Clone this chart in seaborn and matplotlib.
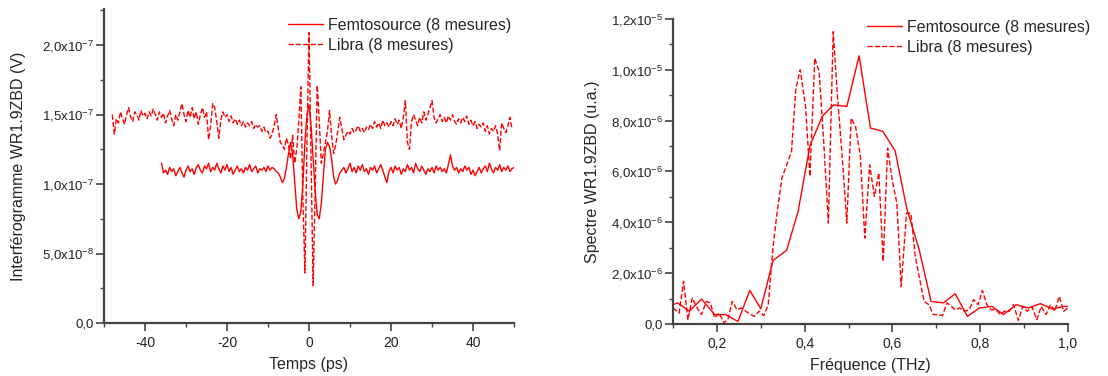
import numpy as np
import pandas as pd
import matplotlib
matplotlib.use("Agg")
import matplotlib.pyplot as plt
import seaborn as sns
from matplotlib.ticker import MultipleLocator, FuncFormatter

# Interferogram, Femtosource (x1e-7 V), 0.5 ps sampling from -36 ps to 50 ps
femto_left = [1.15, 1.08, 1.10, 1.07, 1.12, 1.09, 1.11, 1.06, 1.09, 1.12, 1.08, 1.05, 1.10, 1.13, 1.09,
              1.11, 1.07, 1.12, 1.14, 1.10, 1.08, 1.13, 1.11, 1.15, 1.09, 1.12, 1.10, 1.15, 1.11, 1.08,
              1.13, 1.10, 1.14, 1.09, 1.12, 1.07, 1.10, 1.13, 1.09, 1.11, 1.08, 1.12, 1.10, 1.14, 1.09,
              1.11, 1.13, 1.08, 1.11, 1.10, 1.12, 1.09, 1.13, 1.10, 1.12, 1.11, 1.09]
femto_mid = [1.08, 1.05, 1.01, 1.04, 1.12, 1.22, 1.30, 1.22, 1.02, 0.82, 0.75, 0.80, 1.00, 1.30, 1.50,
             1.57, 1.42, 1.18, 0.95, 0.78, 0.75, 0.86, 1.05, 1.25, 1.30, 1.27, 1.18, 1.05, 1.00, 1.03, 1.08]
femto_right = [1.10, 1.12, 1.08, 1.11, 1.15, 1.09, 1.12, 1.08, 1.13, 1.10, 1.14, 1.09, 1.11, 1.07, 1.12,
               1.10, 1.13, 1.08, 1.11, 1.14, 1.10, 1.05, 1.01, 1.09, 1.12, 1.08, 1.13, 1.10, 1.12, 1.07,
               1.11, 1.09, 1.14, 1.10, 1.12, 1.08, 1.15, 1.11, 1.09, 1.13, 1.10, 1.07, 1.11, 1.09, 1.12,
               1.08, 1.13, 1.10, 1.12, 1.09, 1.11, 1.08, 1.14, 1.21, 1.13, 1.10, 1.12, 1.08, 1.11, 1.09,
               1.13, 1.10, 1.12, 1.07, 1.10, 1.06, 1.09, 1.12, 1.08, 1.11, 1.13, 1.09, 1.15, 1.11, 1.08,
               1.12, 1.10, 1.14, 1.09, 1.12, 1.10, 1.13, 1.09, 1.11, 1.12]
femto_int = femto_left + femto_mid + femto_right

# Interferogram, Libra (x1e-7 V), 0.5 ps sampling from -48 ps to 49.5 ps
libra_int = [1.50, 1.36, 1.47, 1.44, 1.52, 1.47, 1.43, 1.50, 1.55, 1.48, 1.45, 1.52, 1.50, 1.46, 1.53,
             1.49, 1.51, 1.47, 1.52, 1.49, 1.54, 1.50, 1.46, 1.52, 1.48, 1.51, 1.44, 1.49, 1.53, 1.47,
             1.42, 1.50, 1.46, 1.52, 1.58, 1.50, 1.45, 1.53, 1.48, 1.55, 1.47, 1.52, 1.43, 1.50, 1.55,
             1.48, 1.52, 1.32, 1.42, 1.58, 1.55, 1.45, 1.33, 1.46, 1.52, 1.48, 1.50, 1.45, 1.49, 1.44,
             1.47, 1.43, 1.46, 1.42, 1.45, 1.41, 1.44, 1.42, 1.45, 1.40, 1.43, 1.41, 1.42, 1.38, 1.41,
             1.37, 1.38, 1.33, 1.36, 1.42, 1.50, 1.40, 1.30, 1.28, 1.25, 1.33, 1.28, 1.18, 1.35, 1.15,
             1.25, 1.45, 1.70, 0.90, 0.36, 1.30, 2.09, 1.20, 0.27, 0.95, 1.71, 1.45, 1.15, 1.22, 1.30,
             1.38, 1.53, 1.35, 1.22, 1.28, 1.38, 1.48, 1.40, 1.32, 1.35, 1.38, 1.36, 1.40, 1.37, 1.39,
             1.42, 1.38, 1.40, 1.37, 1.41, 1.39, 1.43, 1.40, 1.45, 1.41, 1.44, 1.40, 1.46, 1.42, 1.44,
             1.41, 1.45, 1.42, 1.47, 1.43, 1.46, 1.40, 1.48, 1.60, 1.30, 1.25, 1.45, 1.50, 1.46, 1.42,
             1.48, 1.44, 1.52, 1.46, 1.50, 1.55, 1.60, 1.48, 1.44, 1.47, 1.50, 1.45, 1.48, 1.44, 1.49,
             1.46, 1.50, 1.45, 1.43, 1.47, 1.44, 1.48, 1.45, 1.49, 1.43, 1.46, 1.42, 1.45, 1.40, 1.43,
             1.41, 1.44, 1.38, 1.42, 1.36, 1.40, 1.38, 1.42, 1.36, 1.24, 1.44, 1.40, 1.37, 1.42, 1.48,
             1.40]

# Spectrum, Femtosource (x1e-6 u.a.)
femto_freq = [0.100, 0.111, 0.137, 0.165, 0.195, 0.220, 0.248, 0.275, 0.300, 0.328, 0.359, 0.385,
              0.412, 0.440, 0.466, 0.496, 0.524, 0.550, 0.578, 0.606, 0.633, 0.661, 0.688, 0.716,
              0.743, 0.771, 0.798, 0.827, 0.853, 0.882, 0.909, 0.937, 0.965, 0.990, 1.000]
femto_spec = [0.76, 0.83, 0.50, 0.98, 0.37, 0.37, 0.10, 1.32, 0.60, 2.50, 2.90, 4.43,
              7.01, 8.17, 8.62, 8.56, 10.55, 7.71, 7.58, 6.82, 4.52, 2.92, 0.89, 0.83,
              1.19, 0.30, 0.63, 0.69, 0.37, 0.76, 0.63, 0.80, 0.59, 0.69, 0.69]

# Spectrum, Libra (x1e-6 u.a.)
libra_freq = [0.100, 0.114, 0.124, 0.134, 0.144, 0.155, 0.165, 0.176, 0.185, 0.195, 0.205, 0.216,
              0.225, 0.235, 0.246, 0.256, 0.266, 0.277, 0.286, 0.296, 0.307, 0.317, 0.328, 0.337,
              0.348, 0.359, 0.370, 0.380, 0.390, 0.402, 0.412, 0.423, 0.433, 0.444, 0.454, 0.465,
              0.475, 0.486, 0.496, 0.506, 0.516, 0.527, 0.537, 0.548, 0.559, 0.569, 0.579, 0.589,
              0.600, 0.610, 0.620, 0.632, 0.642, 0.652, 0.663, 0.672, 0.683, 0.693, 0.703, 0.714,
              0.724, 0.735, 0.743, 0.753, 0.764, 0.775, 0.785, 0.795, 0.805, 0.815, 0.825, 0.836,
              0.846, 0.855, 0.866, 0.876, 0.887, 0.897, 0.907, 0.918, 0.929, 0.939, 0.950, 0.960,
              0.970, 0.980, 0.990, 1.000]
libra_spec = [0.63, 0.43, 1.68, 0.17, 1.02, 0.63, 0.37, 0.89, 0.83, 0.24, 0.43, 0.04,
              0.17, 0.89, 0.56, 0.63, 0.50, 0.37, 0.30, 0.50, 0.33, 0.76, 3.05, 4.36,
              5.74, 6.26, 6.79, 9.28, 10.00, 8.56, 5.81, 10.46, 9.93, 6.99, 3.97, 11.50,
              8.89, 6.46, 3.97, 8.10, 7.77, 6.59, 3.38, 6.26, 5.02, 5.94, 2.46, 6.92,
              5.61, 4.76, 1.48, 4.36, 4.36, 2.66, 1.68, 0.89, 0.76, 0.37, 0.37, 0.33,
              0.83, 0.69, 0.56, 0.63, 0.50, 0.56, 0.96, 0.76, 1.32, 0.76, 0.56, 0.56,
              0.37, 0.50, 0.50, 0.76, 0.14, 0.69, 0.50, 0.67, 0.17, 0.69, 0.37, 0.76,
              0.50, 1.09, 0.50, 0.63]

labels = ["Femtosource (8 mesures)", "Libra (8 mesures)"]

sns.set_style("ticks")
plt.rcParams["font.family"] = ["Liberation Sans", "DejaVu Sans"]
plt.rcParams["mathtext.fontset"] = "custom"
plt.rcParams["mathtext.rm"] = "Liberation Sans"
plt.rcParams["mathtext.it"] = "Liberation Sans"
plt.rcParams["axes.unicode_minus"] = False


def sci_fmt(v, pos):
    if abs(v) < 1e-20:
        return "0,0"
    e = int(np.floor(np.log10(abs(v)) + 1e-9))
    m = v / 10 ** e
    return f"{m:.1f}".replace(".", ",") + "x10$^{%d}$" % e


fig = plt.figure(figsize=(11.08, 3.76), dpi=100)
ax1 = fig.add_axes([0.0939, 0.141, 0.370, 0.835])
ax2 = fig.add_axes([0.6074, 0.1383, 0.3565, 0.8112])

red = "#ff0000"

# Interferogram
df_f = pd.DataFrame({"t": np.linspace(-36, 50, len(femto_int)), "v": np.array(femto_int) * 1e-7})
df_l = pd.DataFrame({"t": np.linspace(-48, 49.5, len(libra_int)), "v": np.array(libra_int) * 1e-7})
sns.lineplot(data=df_f, x="t", y="v", ax=ax1, color=red, lw=1.0, label=labels[0])
sns.lineplot(data=df_l, x="t", y="v", ax=ax1, color=red, lw=1.0, linestyle="--", label=labels[1])
ax1.set_xlim(-50, 50)
ax1.set_ylim(0, 2.26e-7)
ax1.xaxis.set_major_locator(MultipleLocator(20))
ax1.xaxis.set_minor_locator(MultipleLocator(10))
ax1.yaxis.set_major_locator(MultipleLocator(5e-8))
ax1.yaxis.set_minor_locator(MultipleLocator(2.5e-8))
ax1.set_xlabel("Temps (ps)", fontsize=11.5, labelpad=5)
ax1.set_ylabel("Interférogramme WR1.9ZBD (V)", fontsize=11.5)

# Spectrum
df_fs = pd.DataFrame({"f": femto_freq, "s": np.array(femto_spec) * 1e-6})
df_ls = pd.DataFrame({"f": libra_freq, "s": np.array(libra_spec) * 1e-6})
sns.lineplot(data=df_fs, x="f", y="s", ax=ax2, color=red, lw=1.0, label=labels[0])
sns.lineplot(data=df_ls, x="f", y="s", ax=ax2, color=red, lw=1.0, linestyle="--", label=labels[1])
ax2.set_xlim(0.1, 1.0)
ax2.set_ylim(0, 1.2e-5)
ax2.xaxis.set_major_locator(MultipleLocator(0.2))
ax2.xaxis.set_minor_locator(MultipleLocator(0.1))
ax2.yaxis.set_major_locator(MultipleLocator(2e-6))
ax2.yaxis.set_minor_locator(MultipleLocator(1e-6))
ax2.xaxis.set_major_formatter(FuncFormatter(lambda v, p: f"{v:.1f}".replace(".", ",")))
ax2.set_xlabel("Fréquence (THz)", fontsize=11.5, labelpad=5)
ax2.set_ylabel("Spectre WR1.9ZBD (u.a.)", fontsize=11.5)

for ax, lx, ly in [(ax1, 288, 18), (ax2, 867, 20)]:
    ax.yaxis.set_major_formatter(FuncFormatter(sci_fmt))
    sns.despine(ax=ax)
    for s in ["left", "bottom"]:
        ax.spines[s].set_color("#444444")
        ax.spines[s].set_linewidth(1.6)
    ax.tick_params(which="major", direction="out", length=6, width=1.2, color="#444444",
                   labelsize=10, labelcolor="#222222")
    ax.tick_params(axis="y", which="major", pad=1.5, labelsize=9.5)
    ax.tick_params(which="minor", direction="out", length=3, width=1.0, color="#444444")
    ax.legend(loc="upper left", bbox_to_anchor=(lx / 1108, 1 - ly / 376),
              bbox_transform=fig.transFigure, frameon=False, fontsize=11.5,
              borderpad=0, borderaxespad=0, handlelength=2.2, handletextpad=0.3,
              labelspacing=0.3)

ax1.yaxis.set_label_coords(-0.19, 0.5)
ax2.yaxis.set_label_coords(-0.185, 0.5)

fig.savefig("out.png", dpi=100)
